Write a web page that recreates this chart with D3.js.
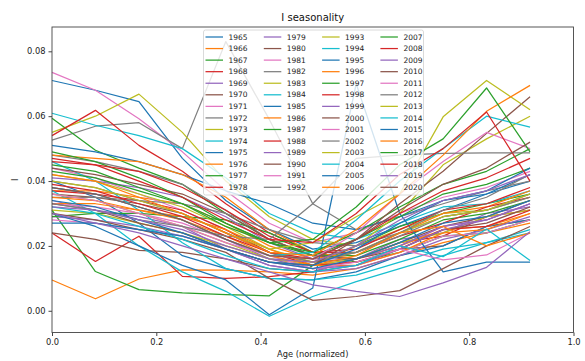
<!DOCTYPE html>
<html>
<head>
<meta charset="utf-8">
<script src="https://cdn.jsdelivr.net/npm/d3@7"></script>
<style>
  body { margin: 0; background: #fff; }
  text { font-family: 'DejaVu Sans', sans-serif; }
</style>
</head>
<body>
<svg id="chart" width="585" height="361"></svg>
<script>
// age positions (normalized), one point per month
const ages = [0, 0.0833, 0.1667, 0.25, 0.3333, 0.4167, 0.5, 0.5833, 0.6667, 0.75, 0.8333, 0.9167];
const xTicks = [0, 0.2, 0.4, 0.6, 0.8, 1.0];
const yTicks = [0, 0.02, 0.04, 0.06, 0.08];

// legend column 1
const years1 = [1965, 1966, 1967, 1968, 1969, 1970, 1971, 1972, 1973, 1974, 1975, 1976, 1977, 1978];
const series1 = [
  [0.071, 0.068, 0.0645, 0.047, 0.034, 0.025, 0.019, 0.021, 0.026, 0.031, 0.036, 0.040],
  [0.0095, 0.0037, 0.0098, 0.0126, 0.0125, 0.012, 0.011, 0.013, 0.017, 0.021, 0.024, 0.027],
  [0.031, 0.0121, 0.0065, 0.0055, 0.005, 0.0046, 0.014, 0.020, 0.026, 0.030, 0.033, 0.036],
  [0.024, 0.0152, 0.023, 0.0106, 0.010, 0.0105, 0.012, 0.016, 0.021, 0.023, 0.029, 0.031],
  [0.034, 0.031, 0.029, 0.026, 0.019, 0.014, 0.012, 0.016, 0.022, 0.024, 0.030, 0.032],
  [0.024, 0.022, 0.0186, 0.018, 0.016, 0.013, 0.012, 0.014, 0.019, 0.020, 0.026, 0.028],
  [0.0735, 0.068, 0.0592, 0.049, 0.037, 0.027, 0.021, 0.024, 0.030, 0.035, 0.038, 0.043],
  [0.0526, 0.0569, 0.058, 0.050, 0.083, 0.059, 0.033, 0.025, 0.029, 0.033, 0.037, 0.040],
  [0.055, 0.060, 0.0668, 0.055, 0.040, 0.029, 0.022, 0.020, 0.025, 0.030, 0.031, 0.035],
  [0.0609, 0.0572, 0.054, 0.050, 0.041, 0.030, 0.024, 0.022, 0.027, 0.032, 0.033, 0.037],
  [0.040, 0.035, 0.027, 0.017, 0.013, 0.010, 0.0095, 0.012, 0.017, 0.020, 0.026, 0.028],
  [0.037, 0.037, 0.035, 0.033, 0.027, 0.020, 0.016, 0.018, 0.024, 0.030, 0.032, 0.037],
  [0.0594, 0.0495, 0.044, 0.039, 0.030, 0.022, 0.017, 0.017, 0.022, 0.028, 0.030, 0.034],
  [0.054, 0.0618, 0.051, 0.043, 0.033, 0.024, 0.018, 0.018, 0.023, 0.027, 0.032, 0.035]
];

// legend column 2
const years2 = [1979, 1980, 1981, 1982, 1983, 1984, 1985, 1986, 1987, 1988, 1989, 1990, 1991, 1992];
const series2 = [
  [0.029, 0.028, 0.026, 0.023, 0.019, 0.014, 0.012, 0.013, 0.017, 0.022, 0.025, 0.029],
  [0.036, 0.035, 0.033, 0.030, 0.024, 0.018, 0.015, 0.016, 0.021, 0.026, 0.029, 0.034],
  [0.044, 0.041, 0.036, 0.031, 0.025, 0.018, 0.014, 0.016, 0.020, 0.026, 0.028, 0.033],
  [0.048, 0.046, 0.043, 0.039, 0.031, 0.022, 0.017, 0.018, 0.023, 0.029, 0.031, 0.036],
  [0.031, 0.030, 0.027, 0.024, 0.020, 0.016, 0.014, 0.016, 0.021, 0.024, 0.029, 0.031],
  [0.046, 0.040, 0.031, 0.021, 0.013, 0.010, 0.0095, 0.011, 0.015, 0.019, 0.021, 0.025],
  [0.051, 0.049, 0.046, 0.042, 0.037, 0.033, 0.027, 0.025, 0.029, 0.034, 0.036, 0.042],
  [0.048, 0.047, 0.046, 0.042, 0.035, 0.025, 0.018, 0.016, 0.020, 0.025, 0.026, 0.030],
  [0.029, 0.030, 0.030, 0.029, 0.028, 0.024, 0.018, 0.015, 0.018, 0.023, 0.024, 0.028],
  [0.037, 0.036, 0.034, 0.031, 0.025, 0.018, 0.014, 0.015, 0.019, 0.025, 0.026, 0.031],
  [0.041, 0.040, 0.038, 0.035, 0.029, 0.021, 0.016, 0.016, 0.020, 0.026, 0.028, 0.033],
  [0.044, 0.042, 0.039, 0.036, 0.030, 0.022, 0.017, 0.016, 0.019, 0.025, 0.027, 0.032],
  [0.028, 0.027, 0.025, 0.023, 0.019, 0.015, 0.013, 0.014, 0.018, 0.023, 0.024, 0.028],
  [0.035, 0.035, 0.034, 0.033, 0.030, 0.025, 0.021, 0.020, 0.024, 0.029, 0.031, 0.035]
];

// legend column 3
const years3 = [1993, 1994, 1995, 1996, 1997, 1998, 1999, 2000, 2001, 2002, 2003, 2004, 2005, 2006];
const series3 = [
  [0.042, 0.040, 0.036, 0.032, 0.026, 0.019, 0.015, 0.018, 0.024, 0.029, 0.031, 0.036],
  [0.037, 0.030, 0.020, 0.012, 0.006, -0.0017, 0.0044, 0.009, 0.013, 0.017, 0.021, 0.024],
  [0.030, 0.026, 0.020, 0.014, 0.0095, -0.0012, 0.007, 0.070, 0.030, 0.012, 0.015, 0.015],
  [0.033, 0.033, 0.031, 0.029, 0.025, 0.019, 0.014, 0.014, 0.018, 0.024, 0.025, 0.030],
  [0.049, 0.046, 0.041, 0.035, 0.027, 0.021, 0.017, 0.022, 0.029, 0.036, 0.039, 0.044],
  [0.046, 0.045, 0.043, 0.038, 0.031, 0.023, 0.018, 0.019, 0.025, 0.031, 0.033, 0.038],
  [0.038, 0.036, 0.032, 0.028, 0.022, 0.016, 0.013, 0.014, 0.019, 0.025, 0.028, 0.033],
  [0.030, 0.028, 0.025, 0.022, 0.018, 0.010, 0.0032, 0.0044, 0.0062, 0.013, 0.020, 0.026],
  [0.033, 0.032, 0.030, 0.027, 0.022, 0.017, 0.013, 0.015, 0.019, 0.0157, 0.0172, 0.024],
  [0.040, 0.038, 0.034, 0.030, 0.024, 0.018, 0.015, 0.018, 0.024, 0.031, 0.035, 0.042],
  [0.036, 0.034, 0.030, 0.026, 0.021, 0.016, 0.015, 0.020, 0.030, 0.045, 0.053, 0.060],
  [0.032, 0.030, 0.026, 0.022, 0.017, 0.013, 0.012, 0.014, 0.020, 0.0167, 0.0252, 0.0155],
  [0.027, 0.027, 0.025, 0.023, 0.019, 0.015, 0.013, 0.016, 0.021, 0.027, 0.029, 0.034],
  [0.035, 0.034, 0.031, 0.028, 0.023, 0.017, 0.014, 0.017, 0.024, 0.026, 0.020, 0.024]
];

// legend column 4
const years4 = [2007, 2008, 2009, 2010, 2011, 2012, 2013, 2014, 2015, 2016, 2017, 2018, 2019, 2020];
const series4 = [
  [0.043, 0.041, 0.037, 0.033, 0.027, 0.021, 0.018, 0.024, 0.032, 0.039, 0.043, 0.050],
  [0.039, 0.037, 0.033, 0.029, 0.023, 0.018, 0.016, 0.022, 0.030, 0.037, 0.041, 0.047],
  [0.030, 0.027, 0.024, 0.020, 0.016, 0.012, 0.008, 0.006, 0.0044, 0.0086, 0.0134, 0.0244],
  [0.033, 0.031, 0.027, 0.024, 0.019, 0.015, 0.014, 0.022, 0.033, 0.043, 0.0547, 0.066],
  [0.036, 0.034, 0.030, 0.026, 0.021, 0.017, 0.016, 0.024, 0.036, 0.046, 0.055, 0.050],
  [0.033, 0.031, 0.028, 0.026, 0.023, 0.022, 0.033, 0.047, 0.048, 0.0485, 0.0487, 0.0487],
  [0.040, 0.038, 0.034, 0.030, 0.024, 0.019, 0.021, 0.029, 0.036, 0.0598, 0.071, 0.062],
  [0.038, 0.036, 0.032, 0.028, 0.022, 0.017, 0.018, 0.028, 0.040, 0.050, 0.060, 0.0566],
  [0.034, 0.032, 0.028, 0.024, 0.019, 0.015, 0.014, 0.019, 0.027, 0.034, 0.037, 0.044],
  [0.042, 0.040, 0.035, 0.030, 0.024, 0.018, 0.017, 0.025, 0.036, 0.048, 0.0615, 0.0695],
  [0.045, 0.043, 0.038, 0.033, 0.026, 0.021, 0.022, 0.032, 0.045, 0.053, 0.0687, 0.049],
  [0.047, 0.045, 0.040, 0.035, 0.028, 0.022, 0.021, 0.030, 0.042, 0.050, 0.0613, 0.040],
  [0.032, 0.031, 0.028, 0.025, 0.020, 0.016, 0.015, 0.020, 0.028, 0.034, 0.037, 0.042],
  [0.038, 0.036, 0.032, 0.028, 0.022, 0.017, 0.016, 0.022, 0.031, 0.039, 0.044, 0.052]
];

const years = years1.concat(years2, years3, years4);
const series = series1.concat(series2, series3, series4);

const svg = d3.select('#chart');
const margin = {top: 27, right: 11.5, bottom: 28.5, left: 52};
const width = 585 - margin.left - margin.right;
const height = 361 - margin.top - margin.bottom;
const g = svg.append('g').attr('transform', 'translate(' + margin.left + ',' + margin.top + ')');

const x = d3.scaleLinear().domain([0, 1]).range([0, width]);
const y = d3.scaleLinear().domain([-0.0067, 0.0875]).range([height, 0]);
const color = i => d3.schemeCategory10[i % 10];

const line = d3.line()
  .x((d, i) => x(ages[i]))
  .y(d => y(d));

// axes
const xAxis = g.append('g')
  .attr('transform', 'translate(0,' + height + ')')
  .call(d3.axisBottom(x).tickValues(xTicks).tickFormat(d3.format('.1f')).tickSize(3.5).tickSizeOuter(0).tickPadding(3));
const yAxis = g.append('g')
  .call(d3.axisLeft(y).tickValues(yTicks).tickFormat(d3.format('.2f')).tickSize(3.5).tickSizeOuter(0).tickPadding(3));
[xAxis, yAxis].forEach(a => {
  a.select('.domain').remove();
  a.selectAll('line').attr('stroke', '#444');
  a.selectAll('text').attr('fill', '#222').style('font-size', '8.3px').style('font-family', 'DejaVu Sans');
});

// the series
g.append('g')
  .selectAll('path')
  .data(series)
  .join('path')
  .attr('d', line)
  .attr('fill', 'none')
  .attr('stroke', (d, i) => color(i))
  .attr('stroke-width', 1.25)
  .attr('stroke-linejoin', 'round');

// frame
g.append('rect')
  .attr('width', width)
  .attr('height', height)
  .attr('fill', 'none')
  .attr('stroke', '#444')
  .attr('stroke-width', 0.9);

// title and labels
svg.append('text')
  .attr('x', margin.left + width / 2)
  .attr('y', 21)
  .attr('text-anchor', 'middle')
  .style('font-size', '10px')
  .attr('fill', '#111')
  .text('I seasonality');
svg.append('text')
  .attr('x', margin.left + width / 2)
  .attr('y', 357)
  .attr('text-anchor', 'middle')
  .style('font-size', '8.3px')
  .attr('fill', '#222')
  .text('Age (normalized)');
svg.append('text')
  .attr('transform', 'translate(17.5,' + (margin.top + height / 2) + ') rotate(-90)')
  .attr('text-anchor', 'middle')
  .style('font-size', '8.3px')
  .attr('fill', '#222')
  .text('I');

// legend, 4 columns of 14
const legend = svg.append('g').attr('transform', 'translate(203.5,30)');
legend.append('rect')
  .attr('width', 220)
  .attr('height', 165)
  .attr('rx', 2)
  .attr('fill', '#fff')
  .attr('fill-opacity', 0.8)
  .attr('stroke', '#d0d0d0')
  .attr('stroke-width', 0.8);
const item = legend.selectAll('g.item')
  .data(years)
  .join('g')
  .attr('class', 'item')
  .attr('transform', (d, i) => 'translate(' + (2 + Math.floor(i / 14) * 58.3) + ',' + (7 + (i % 14) * 11.56) + ')');
item.append('line')
  .attr('x1', 0).attr('x2', 17.5)
  .attr('stroke', (d, i) => color(i))
  .attr('stroke-width', 1.25);
item.append('text')
  .attr('x', 23)
  .attr('dy', '0.35em')
  .style('font-size', '7.5px')
  .attr('fill', '#222')
  .text(d => d);
</script>
</body>
</html>
